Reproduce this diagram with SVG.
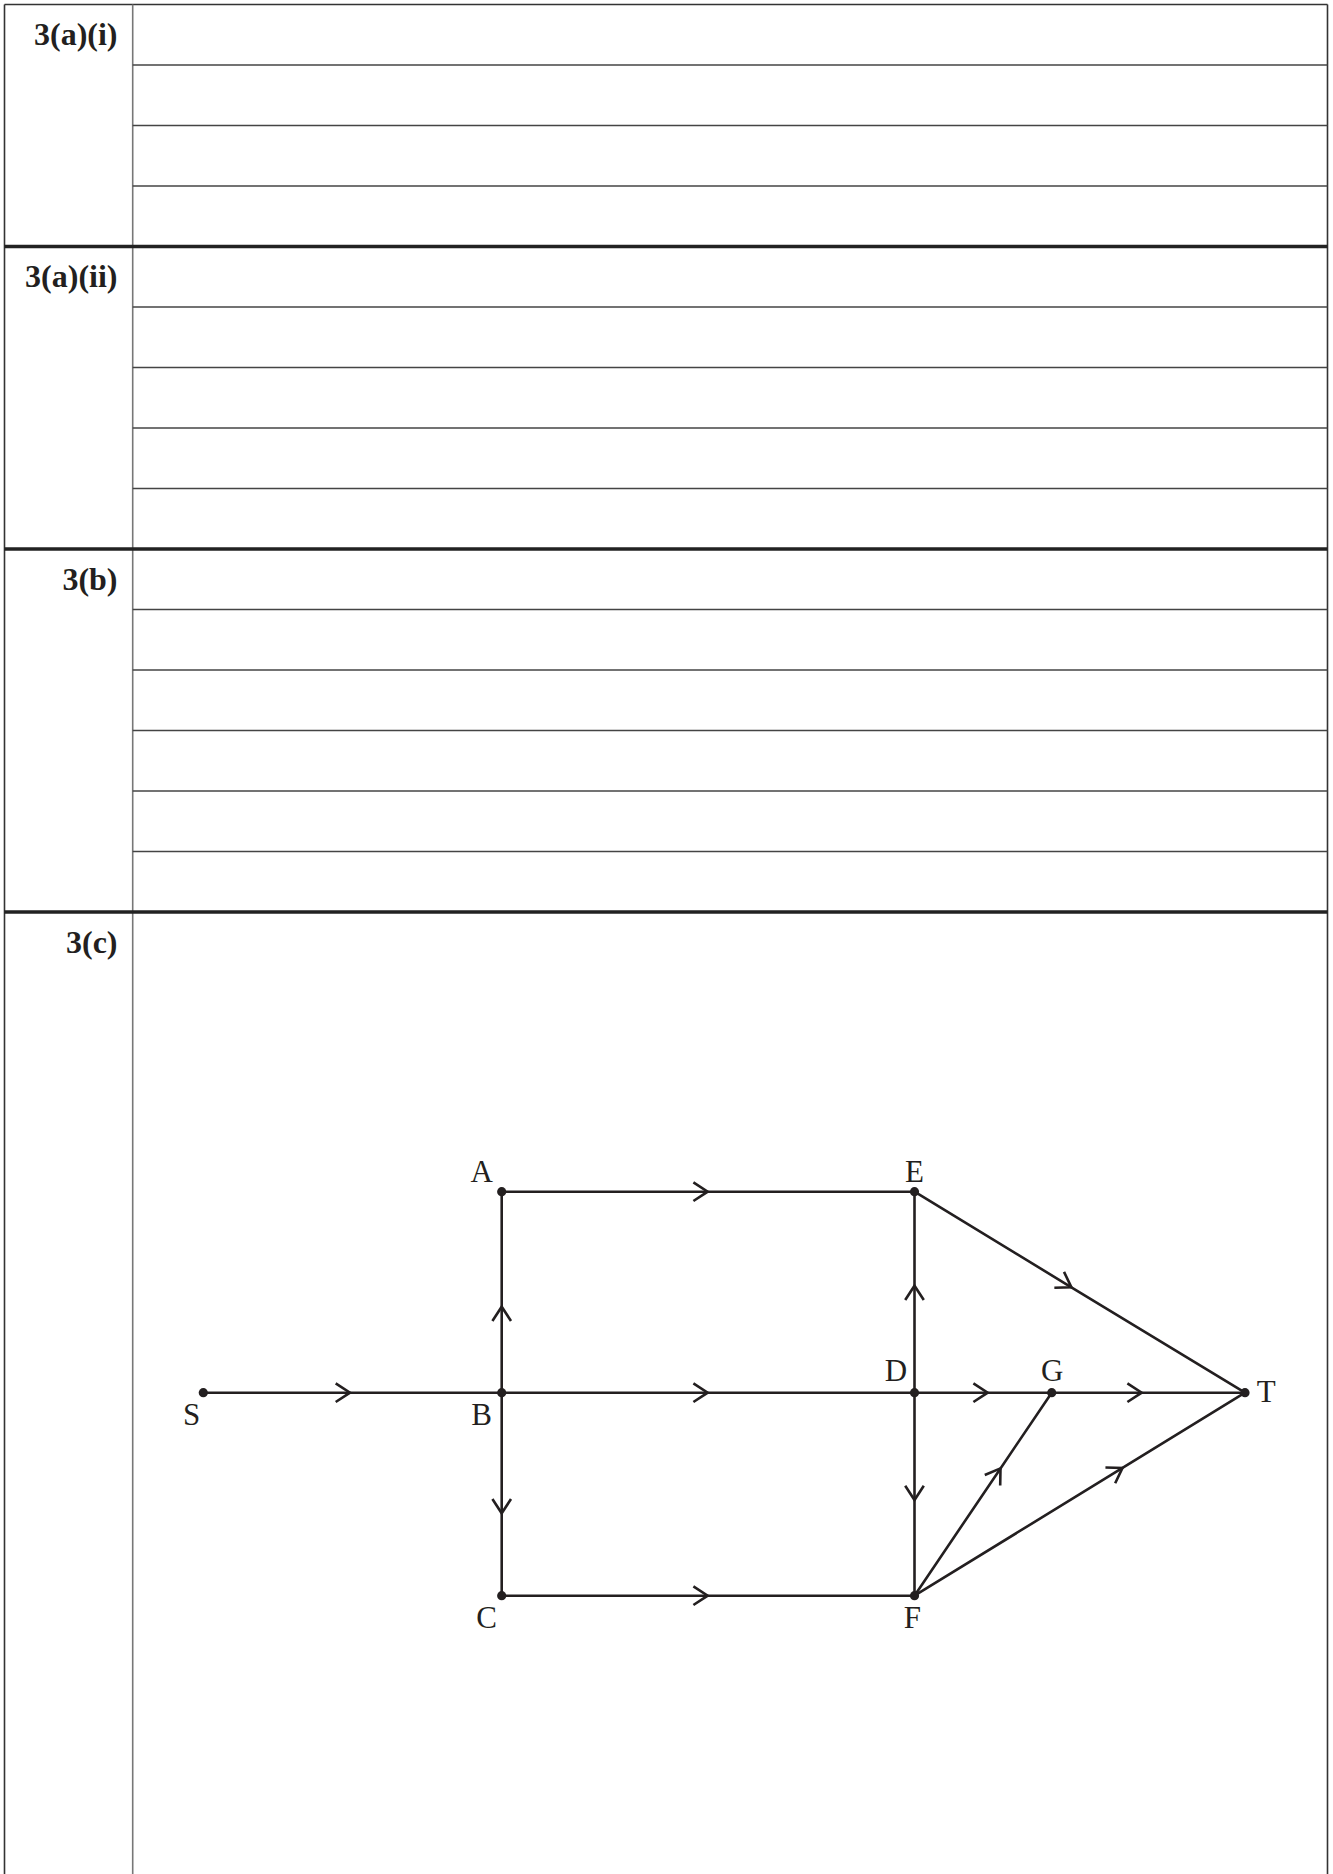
<svg xmlns="http://www.w3.org/2000/svg" width="1333" height="1874" viewBox="0 0 1333 1874">
<style>
.thin{stroke:#444;stroke-width:1.3;fill:none}
.thick{stroke:#222;stroke-width:3.6;fill:none}
.border{stroke:#333;stroke-width:1.6;fill:none}
.div{stroke:#777;stroke-width:1.6;fill:none}
.qlabel{font-family:"Liberation Serif","Times New Roman",serif;font-weight:bold;font-size:32px;fill:#231f20;text-anchor:end}
.edge{stroke:#231f20;stroke-width:2.6;fill:none;marker-mid:url(#chev)}
.dot{fill:#231f20}
.nlabel{font-family:"Liberation Serif","Times New Roman",serif;font-size:31px;fill:#231f20}
</style>
<defs>
<marker id="chev" markerUnits="userSpaceOnUse" orient="auto" overflow="visible" markerWidth="30" markerHeight="30" refX="0" refY="0">
<path d="M-14.3,-9.3 L0,0 L-14.3,9.3" fill="none" stroke="#231f20" stroke-width="2.6"/>
</marker>
</defs>
<rect width="1333" height="1874" fill="#fff"/>
<g id="table">
<line class="border" x1="4.5" y1="4.5" x2="1327.5" y2="4.5"/>
<line class="border" x1="4.5" y1="4.5" x2="4.5" y2="1874"/>
<line class="border" x1="1327.5" y1="4.5" x2="1327.5" y2="1874"/>
<line class="div" x1="132.7" y1="4.5" x2="132.7" y2="1874"/>
<g class="thin">
<line x1="132.7" y1="65" x2="1327.5" y2="65"/>
<line x1="132.7" y1="125.5" x2="1327.5" y2="125.5"/>
<line x1="132.7" y1="186" x2="1327.5" y2="186"/>
<line x1="132.7" y1="307" x2="1327.5" y2="307"/>
<line x1="132.7" y1="367.5" x2="1327.5" y2="367.5"/>
<line x1="132.7" y1="428" x2="1327.5" y2="428"/>
<line x1="132.7" y1="488.5" x2="1327.5" y2="488.5"/>
<line x1="132.7" y1="609.5" x2="1327.5" y2="609.5"/>
<line x1="132.7" y1="670" x2="1327.5" y2="670"/>
<line x1="132.7" y1="730.5" x2="1327.5" y2="730.5"/>
<line x1="132.7" y1="791" x2="1327.5" y2="791"/>
<line x1="132.7" y1="851.5" x2="1327.5" y2="851.5"/>
</g>
<g class="thick">
<line x1="4.5" y1="246.5" x2="1327.5" y2="246.5"/>
<line x1="4.5" y1="549" x2="1327.5" y2="549"/>
<line x1="4.5" y1="912" x2="1327.5" y2="912"/>
</g>
<text class="qlabel" x="117.5" y="45">3(a)(i)</text>
<text class="qlabel" x="117.5" y="287">3(a)(ii)</text>
<text class="qlabel" x="117.5" y="589.5">3(b)</text>
<text class="qlabel" x="117.5" y="952.5">3(c)</text>
</g>
<g id="connectors">
<path class="edge" d="M203.3,1392.7 L350,1392.7 L501.7,1392.7"/>
<path class="edge" d="M501.7,1392.7 L501.7,1306.7 L501.7,1191.7"/>
<path class="edge" d="M501.7,1392.7 L501.7,1513.3 L501.7,1595.7"/>
<path class="edge" d="M501.7,1191.7 L707.7,1191.7 L914.5,1191.7"/>
<path class="edge" d="M501.7,1392.7 L707.7,1392.7 L914.5,1392.7"/>
<path class="edge" d="M501.7,1595.7 L707.7,1595.7 L914.5,1595.7"/>
<path class="edge" d="M914.5,1392.7 L914.5,1285.7 L914.5,1191.7"/>
<path class="edge" d="M914.5,1392.7 L914.5,1500 L914.5,1595.7"/>
<path class="edge" d="M914.5,1392.7 L987.7,1392.7 L1051.7,1392.7"/>
<path class="edge" d="M1051.7,1392.7 L1141.7,1392.7 L1245,1392.7"/>
<path class="edge" d="M914.5,1191.7 L1071.4,1287.3 L1245,1392.7"/>
<path class="edge" d="M914.5,1595.7 L1000.5,1468.4 L1051.7,1392.7"/>
<path class="edge" d="M914.5,1595.7 L1122.5,1467.9 L1245,1392.7"/>
</g>
<g id="node-S"><circle class="dot" cx="203.3" cy="1392.7" r="4.6"/><text class="nlabel" x="191.7" y="1425" text-anchor="middle">S</text></g>
<g id="node-A"><circle class="dot" cx="501.7" cy="1191.7" r="4.6"/><text class="nlabel" x="481.7" y="1181.5" text-anchor="middle">A</text></g>
<g id="node-B"><circle class="dot" cx="501.7" cy="1392.7" r="4.6"/><text class="nlabel" x="481.7" y="1425" text-anchor="middle">B</text></g>
<g id="node-C"><circle class="dot" cx="501.7" cy="1595.7" r="4.6"/><text class="nlabel" x="486.7" y="1628.3" text-anchor="middle">C</text></g>
<g id="node-E"><circle class="dot" cx="914.5" cy="1191.7" r="4.6"/><text class="nlabel" x="914.5" y="1181.5" text-anchor="middle">E</text></g>
<g id="node-D"><circle class="dot" cx="914.5" cy="1392.7" r="4.6"/><text class="nlabel" x="896" y="1381" text-anchor="middle">D</text></g>
<g id="node-F"><circle class="dot" cx="914.5" cy="1595.7" r="4.6"/><text class="nlabel" x="912.3" y="1628.3" text-anchor="middle">F</text></g>
<g id="node-G"><circle class="dot" cx="1051.7" cy="1392.7" r="4.6"/><text class="nlabel" x="1052.3" y="1381" text-anchor="middle">G</text></g>
<g id="node-T"><circle class="dot" cx="1245" cy="1392.7" r="4.6"/><text class="nlabel" x="1256.7" y="1402" text-anchor="start">T</text></g>
</svg>
